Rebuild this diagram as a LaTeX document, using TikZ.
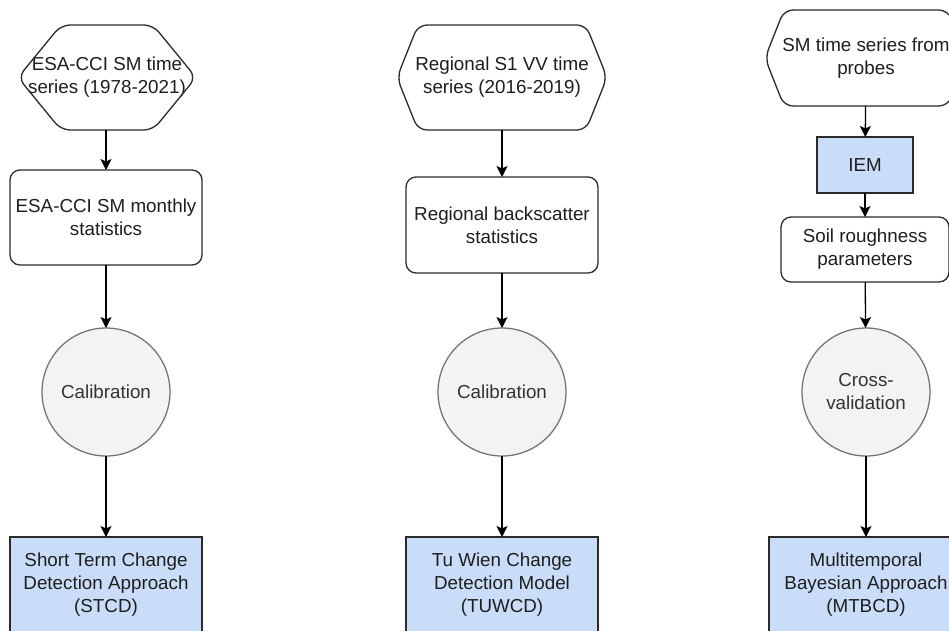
\documentclass[tikz,border=0pt]{standalone}
\usepackage{fontspec}
\setmainfont{Liberation Sans}
\usetikzlibrary{arrows.meta}
\definecolor{bluefill}{HTML}{C9DDF8}
\definecolor{edgedark}{HTML}{2B2B2B}
\definecolor{circfill}{HTML}{F3F3F3}
\definecolor{circedge}{HTML}{767676}
\definecolor{txt}{HTML}{1E1E1E}
\definecolor{circtxt}{HTML}{333333}
\tikzset{
  base/.style={font=\fontsize{18.8}{23}\selectfont, text=txt, align=center, inner sep=0pt, outer sep=0pt},
  hexbox/.style={base, rectangle, minimum width=#1},
  roundbox/.style={base, rectangle, draw=edgedark, line width=1.3pt, rounded corners=10pt, fill=white},
  bluebox/.style={base, rectangle, draw=edgedark, line width=1.3pt, fill=bluefill},
  calib/.style={base, circle, draw=circedge, line width=1.3pt, fill=circfill, minimum size=128pt, text=circtxt},
  flow/.style={draw=black, line width=1.3pt, -{Stealth[length=11pt,width=11pt,inset=2.5pt]}},
  hexline/.style={draw=edgedark, line width=1.3pt, rounded corners=9pt}
}
\newcommand{\hexdraw}[2]{%
  \draw[hexline] (#1.west) -- ([xshift=#2pt]#1.north west) -- ([xshift=-#2pt]#1.north east)
    -- (#1.east) -- ([xshift=-#2pt]#1.south east) -- ([xshift=#2pt]#1.south west) -- cycle;}
\begin{document}
\begin{tikzpicture}[x=1pt,y=-1pt]
\useasboundingbox (0,0) rectangle (949,630);
\clip (0,0) rectangle (949,630);
\fill[white] (0,0) rectangle (949,630);

% Column 1
\node[base, minimum width=178pt, minimum height=105pt] (h1) at (107,77.5) {ESA-CCI SM time\\series (1978-2021)};
\hexdraw{h1}{43}
\node[roundbox, minimum width=192pt, minimum height=95pt] (s1) at (106,217.5) {ESA-CCI SM monthly\\statistics};
\node[calib] (c1) at (106,392) {Calibration};
\node[bluebox, minimum width=192pt, minimum height=96pt] (m1) at (106,585) {Short Term Change\\Detection Approach\\(STCD)};
\draw[flow] (h1.south -| s1.north) -- (s1.north);
\draw[flow] (s1) -- (c1);
\draw[flow] (c1) -- (m1);

% Column 2
\node[base, minimum width=210pt, minimum height=105pt] (h2) at (502,77.5) {Regional S1 VV time\\series (2016-2019)};
\hexdraw{h2}{21}
\node[roundbox, minimum width=192pt, minimum height=96pt] (s2) at (502,225) {Regional backscatter\\statistics};
\node[calib] (c2) at (502,392) {Calibration};
\node[bluebox, minimum width=192pt, minimum height=96pt] (m2) at (502,585) {Tu Wien Change\\Detection Model\\(TUWCD)};
\draw[flow] (h2) -- (s2);
\draw[flow] (s2) -- (c2);
\draw[flow] (c2) -- (m2);

% Column 3
\node[base, minimum width=202pt, minimum height=96pt] (h3) at (866,58) {SM time series from\\probes};
\hexdraw{h3}{19}
\node[bluebox, minimum width=96pt, minimum height=56pt] (i3) at (865,165) {IEM};
\node[roundbox, minimum width=168pt, minimum height=65pt] (s3) at (865,249.5) {Soil roughness\\parameters};
\node[calib] (c3) at (866,392) {Cross-\\validation};
\node[bluebox, minimum width=194pt, minimum height=96pt] (m3) at (866,585) {Multitemporal\\Bayesian Approach\\(MTBCD)};
\draw[flow] (h3) -- (i3);
\draw[flow] (i3) -- (s3);
\draw[flow] (s3) -- (c3);
\draw[flow] (c3) -- (m3);
\end{tikzpicture}
\end{document}
